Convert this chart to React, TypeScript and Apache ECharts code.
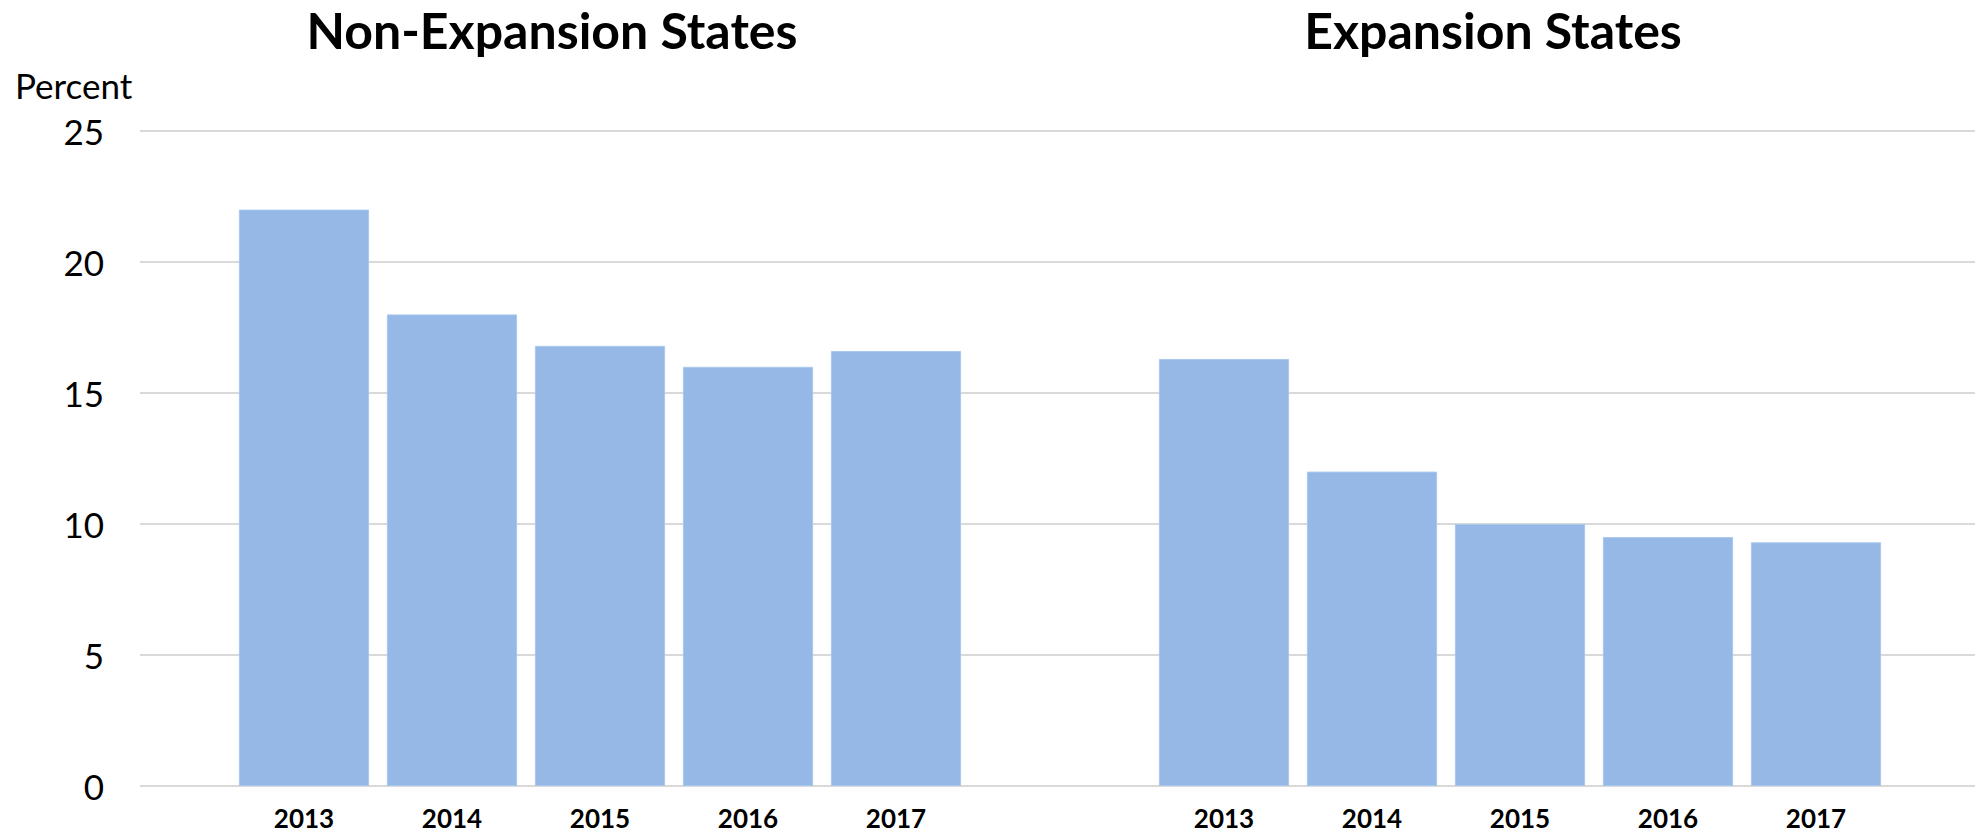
import React, { useEffect, useRef } from "react";
import * as echarts from "echarts";

const years = ["2013", "2014", "2015", "2016", "2017"];
const nonExpansion = [22.0, 18.0, 16.8, 16.0, 16.6];
const expansion = [16.3, 12.0, 10.0, 9.5, 9.3];
const panelTitles = ["Non-Expansion States", "Expansion States"];
const yAxisName = "Percent";
const yMin = 0;
const yMax = 25;
const yStep = 5;

const FONT = "Lato, 'Noto Sans', sans-serif";
const BAR = "#95B8E7";
const GRID = "#D9D9D9";

export default function App() {
  const ref = useRef<HTMLDivElement>(null);
  useEffect(() => {
    if (!ref.current) return;
    const chart = echarts.init(ref.current, null, { renderer: "svg" });
    const top = 131;
    const bottom = 48;
    const panelXAxis = (gridIndex: number) => ({
      type: "category" as const,
      gridIndex,
      data: years,
      axisLine: { show: false },
      axisTick: { show: false },
      axisLabel: {
        fontFamily: FONT,
        fontWeight: "bold" as const,
        fontSize: 26,
        color: "#000",
        margin: 19,
      },
    });
    const hiddenY = (gridIndex: number) => ({
      type: "value" as const,
      gridIndex,
      min: yMin,
      max: yMax,
      interval: yStep,
      show: false,
    });
    const barSeries = (idx: number, data: number[], name: string) => ({
      type: "bar" as const,
      name,
      xAxisIndex: idx,
      yAxisIndex: idx,
      data,
      barCategoryGap: "12%",
      itemStyle: { color: BAR, borderColor: "#A9C8EE", borderWidth: 1 },
      silent: true,
    });
    const titleStyle = (text: string) => ({
      text,
      fontFamily: FONT,
      fontWeight: "bold",
      fontSize: 50,
      fill: "#000",
      align: "center",
      verticalAlign: "middle",
    });
    chart.setOption({
      animation: false,
      backgroundColor: "#fff",
      grid: [
        { left: 140, right: 2, top, bottom },
        { left: 230, width: 740, top, bottom },
        { left: 1150, width: 740, top, bottom },
      ],
      xAxis: [
        { type: "value", gridIndex: 0, min: 0, max: 1, show: false },
        panelXAxis(1),
        panelXAxis(2),
      ],
      yAxis: [
        {
          type: "value",
          gridIndex: 0,
          min: yMin,
          max: yMax,
          interval: yStep,
          axisLine: { show: false },
          axisTick: { show: false },
          splitLine: { lineStyle: { color: GRID, width: 2 } },
          axisLabel: {
            fontFamily: FONT,
            fontSize: 35,
            color: "#000",
            margin: 36,
          },
        },
        hiddenY(1),
        hiddenY(2),
      ],
      series: [
        barSeries(1, nonExpansion, panelTitles[0]),
        barSeries(2, expansion, panelTitles[1]),
      ],
      graphic: [
        {
          type: "text",
          left: 15,
          top: 67,
          style: {
            text: yAxisName,
            fontFamily: FONT,
            fontSize: 35,
            fill: "#000",
          },
        },
        { type: "text", x: 552, y: 30, style: titleStyle(panelTitles[0]) },
        { type: "text", x: 1493, y: 30, style: titleStyle(panelTitles[1]) },
      ],
    });
    return () => chart.dispose();
  }, []);
  return (
    <div
      ref={ref}
      style={{ position: "fixed", left: 0, top: 0, width: 1977, height: 834 }}
    />
  );
}
